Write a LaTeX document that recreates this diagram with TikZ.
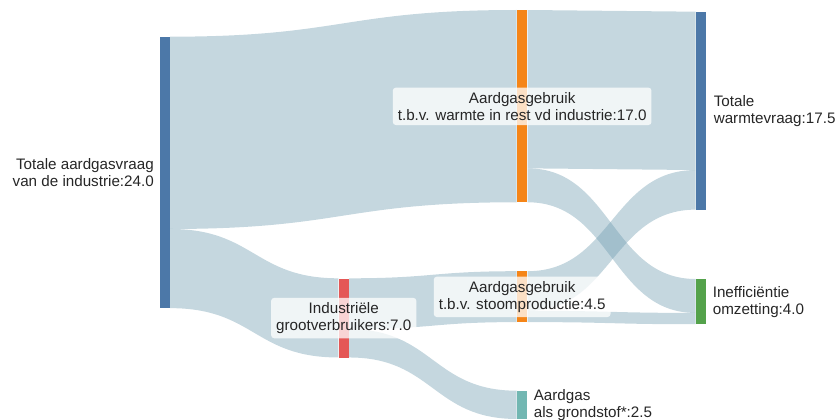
\documentclass[tikz,border=0pt]{standalone}
\usepackage{fontspec}
\setmainfont{Liberation Sans}
\usetikzlibrary{calc}
\pgfdeclarelayer{bg}
\pgfsetlayers{bg,main}
\definecolor{cblue}{HTML}{4C78A8}
\definecolor{corange}{HTML}{F58518}
\definecolor{cred}{HTML}{E45756}
\definecolor{cgreen}{HTML}{54A24B}
\definecolor{cteal}{HTML}{72B7B2}
\definecolor{clink}{RGB}{110,155,175}
\definecolor{ctext}{RGB}{38,38,38}
\def\unitpx{11.31}
% #1 source node, #2 offset in source (units), #3 target node, #4 offset in target, #5 value
\newcommand\sklink[5]{%
  \coordinate (a1) at ($(#1.north east)+(0,#2*\unitpx)$);
  \coordinate (a2) at ($(#1.north east)+(0,#2*\unitpx+#5*\unitpx)$);
  \coordinate (b1) at ($(#3.north west)+(0,#4*\unitpx)$);
  \coordinate (b2) at ($(#3.north west)+(0,#4*\unitpx+#5*\unitpx)$);
  \coordinate (m) at ($(a1)!0.5!(b1)$);
  \fill[link] (a1) .. controls (m|-a1) and (m|-b1) .. (b1) -- (b2)
     .. controls (m|-b2) and (m|-a2) .. (a2) -- cycle;
}
\begin{document}
\begin{tikzpicture}[x=1pt,y=-1pt,
  bar/.style={draw=none, inner sep=0pt, minimum width=10.5pt, anchor=north west, rectangle},
  link/.style={fill=clink, fill opacity=0.4},
  lbl/.style={font=\fontsize{15.2}{17.2}\selectfont, text=ctext, inner sep=0pt},
  box/.style={lbl, fill=white, fill opacity=0.75, text opacity=1, rounded corners=3pt,
              inner xsep=5pt, inner ysep=4.5pt, align=center}]
\useasboundingbox (0,0) rectangle (835,420);

\node[bar, fill=cblue,   minimum height=24*\unitpx]  (src)   at (159.3,36.7) {};
\node[bar, fill=corange, minimum height=17*\unitpx]  (warm)  at (516.7,10) {};
\node[bar, fill=cred,    minimum height=7*\unitpx]   (ind)   at (338.3,278.3) {};
\node[bar, fill=corange, minimum height=4.5*\unitpx] (stoom) at (516.7,271.2) {};
\node[bar, fill=cblue,   minimum height=17.5*\unitpx] (wv)   at (695.7,11.7) {};
\node[bar, fill=cgreen,  minimum height=4*\unitpx]   (ineff) at (695.7,279) {};
\node[bar, fill=cteal,   minimum height=2.5*\unitpx] (grond) at (516.7,390.7) {};

\begin{pgfonlayer}{bg}
\sklink{src}{0}{warm}{0}{17}
\sklink{src}{17}{ind}{0}{7}
\sklink{ind}{0}{stoom}{0}{4.5}
\sklink{ind}{4.5}{grond}{0}{2.5}
\sklink{warm}{0}{wv}{0}{14}
\sklink{warm}{14}{ineff}{0}{3}
\sklink{stoom}{0}{wv}{14}{3.5}
\sklink{stoom}{3.5}{ineff}{3}{1}
\end{pgfonlayer}

\node[lbl, anchor=east, align=right] (srcl) at ($(src.west)+(-5.3,0)$) {Totale aardgasvraag\\van de industrie:24.0};
\node[box] (warml) at (warm.center) {Aardgasgebruik\\t.b.v. warmte in rest vd industrie:17.0};
\node[box] (indl) at (ind.center) {Industriële\\grootverbruikers:7.0};
\node[box] (stooml) at (stoom.center) {Aardgasgebruik\\t.b.v. stoomproductie:4.5};
\node[lbl, anchor=west, align=left] (wvl) at ($(wv.east)+(7,0)$) {Totale\\warmtevraag:17.5};
\node[lbl, anchor=west, align=left] (ineffl) at ($(ineff.east)+(6,0)$) {Inefficiëntie\\omzetting:4.0};
\node[lbl, anchor=west, align=left] (grondl) at ($(grond.east)+(6,0)$) {Aardgas\\als grondstof*:2.5};
\end{tikzpicture}
\end{document}
